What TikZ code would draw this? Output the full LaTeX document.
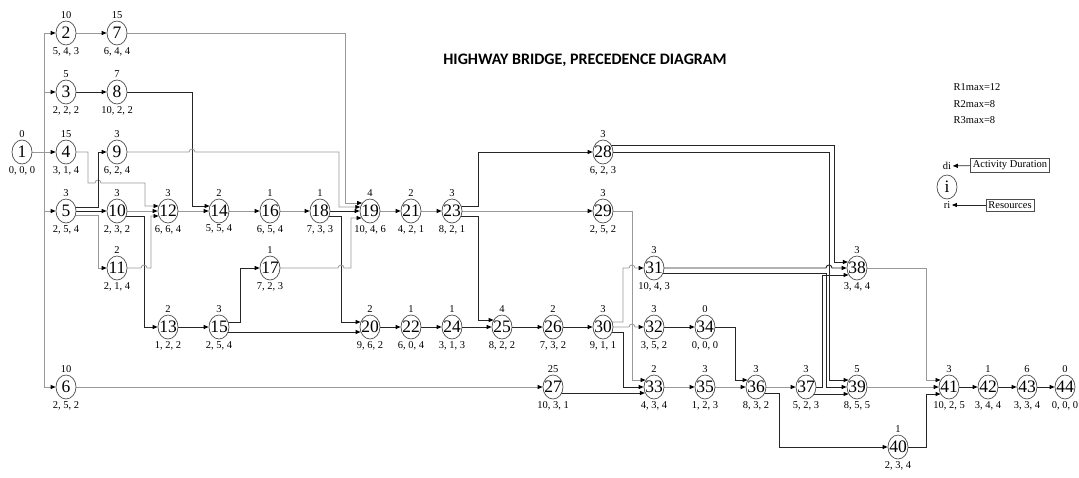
\documentclass[tikz,border=0pt]{standalone}
\usepackage{fontspec}
\setmainfont{Liberation Serif}
\newfontfamily\titlefont{Carlito}
\usetikzlibrary{arrows.meta, shapes.geometric, backgrounds}
\tikzset{
  act/.style={draw=black!70, ellipse, fill=white, line width=0.7pt,
    minimum width=20pt, minimum height=24pt, inner sep=0pt,
    font=\fontsize{17.5}{17.5}\selectfont},
  lbl/.style={font=\fontsize{10.5}{11}\selectfont, inner sep=1.5pt},
  lt/.style={draw=black!40, line width=0.8pt,
    -{Triangle[length=5pt,width=4pt,color=black]}},
  dk/.style={draw=black!85, line width=0.9pt,
    -{Triangle[length=5pt,width=4pt,color=black]}},
  legbox/.style={draw=black!70, line width=0.6pt, inner sep=2.5pt,
    font=\fontsize{10.5}{11}\selectfont},
}
\newcommand{\jmp}{arc[start angle=180, end angle=0, radius=3pt]}

\begin{document}
\begin{tikzpicture}[x=1pt, y=-1pt, label distance=0pt]
  \useasboundingbox (0,0) rectangle (1079,477);

  % activities: number / x / y / duration / resources
  \foreach \n/\x/\y/\dur/\res in {
      1/22/152/0/{0, 0, 0}, 2/66/33/10/{5, 4, 3}, 3/66/92/5/{2, 2, 2},
      4/66/152/15/{3, 1, 4}, 5/66/211/3/{2, 5, 4}, 6/66/387/10/{2, 5, 2},
      7/117/33/15/{6, 4, 4}, 8/117/92/7/{10, 2, 2}, 9/117/152/3/{6, 2, 4},
      10/117/211/3/{2, 3, 2}, 11/117/268/2/{2, 1, 4},
      12/168/211/3/{6, 6, 4}, 13/168/327/2/{1, 2, 2},
      14/219/211/2/{5, 5, 4}, 15/219/327/3/{2, 5, 4},
      16/270/211/1/{6, 5, 4}, 17/270/268/1/{7, 2, 3},
      18/320/211/1/{7, 3, 3}, 19/370/211/4/{10, 4, 6},
      20/370/327/2/{9, 6, 2}, 21/411/211/2/{4, 2, 1},
      22/411/327/1/{6, 0, 4}, 23/452/211/3/{8, 2, 1},
      24/452/327/1/{3, 1, 3}, 25/502/327/4/{8, 2, 2},
      26/553/327/2/{7, 3, 2}, 27/553/387/25/{10, 3, 1},
      28/603/152/3/{6, 2, 3}, 29/603/211/3/{2, 5, 2},
      30/603/327/3/{9, 1, 1}, 31/654/268/3/{10, 4, 3},
      32/654/327/3/{3, 5, 2}, 33/654/387/2/{4, 3, 4},
      34/705/327/0/{0, 0, 0}, 35/705/387/3/{1, 2, 3},
      36/756/387/3/{8, 3, 2}, 37/806/387/3/{5, 2, 3},
      38/857/268/3/{3, 4, 4}, 39/857/387/5/{8, 5, 5},
      40/898/447/1/{2, 3, 4}, 41/949/387/3/{10, 2, 5},
      42/988/387/1/{3, 4, 4}, 43/1027/387/6/{3, 3, 4},
      44/1065/387/0/{0, 0, 0}}
    \node[act, label={[lbl]above:\dur}, label={[lbl]below:\res}]
      (n\n) at (\x,\y) {\makebox[0pt]{\n}};

  % title and resource limits
  \node[font=\titlefont\bfseries\fontsize{16}{16}\selectfont] (title)
    at (585,60) {HIGHWAY BRIDGE, PRECEDENCE DIAGRAM};
  \node[lbl, align=left, anchor=north west,
        font=\fontsize{10.5}{16.5}\selectfont] (rmax)
    at (952,82) {R1max=12\\R2max=8\\R3max=8};

  % legend
  \node[act] (legi) at (947,187) {\makebox[0pt]{i}};
  \node[lbl] (di) at (947,166) {di};
  \node[lbl] (ri) at (947,205) {ri};
  \node[legbox] (dur) at (1010,165) {Activity Duration};
  \node[legbox] (res) at (1010,205) {Resources};
  \draw[dk, line width=0.7pt] (dur) -- (di);
  \draw[dk, line width=0.7pt] (res) -- (ri);

  \begin{scope}[on background layer]
    % start node 1
    \draw[lt] (n1.center) -- (n4.west);
    \foreach \t in {2,3,5,6}
      \draw[lt] (n1.center) -- (44,152) |- (n\t.west);

    % first columns
    \draw[lt] (n2.center) -- (n7.west);
    \draw[dk] (n3.center) -- (n8.west);
    \draw[lt] (n7.center) -- (345,33) |- ([xshift=2.5pt,yshift=8pt]n19.west);
    \draw[dk] (n8.center) -- (192,92) |- ([xshift=0.9pt,yshift=5pt]n14.west);
    \draw[lt] (n4.center) -- (88,152) -- (88,183) -- (95,183) \jmp
      -- (145,183) |- ([xshift=0.9pt,yshift=5pt]n12.west);
    \draw[lt] (n9.center) -- (189,152) \jmp
      -- (339,152) |- ([xshift=0.6pt,yshift=4pt]n19.west);
    \draw[dk] ([yshift=4pt]n5.center) -- (98,207) |- (n9.west);
    \draw[dk] (n5.center) -- (n10.west);
    \draw[lt] ([yshift=-4pt]n5.center) -- (98,215) |- (n11.west);
    \draw[lt] (n10.center) -- (n12.west);
    \draw[dk] ([yshift=-5pt]n10.center) -- (144,216) |- (n13.west);
    \draw[lt] (n11.center) -- (141,268) \jmp
      -- (151,268) |- ([xshift=0.9pt,yshift=-5pt]n12.west);

    % middle rows
    \foreach \a/\b in {12/14, 14/16, 16/18, 19/21, 21/23, 23/29}
      \draw[lt] (n\a.center) -- (n\b.west);
    \foreach \a/\b in {13/15, 18/19, 20/22, 22/24, 24/25, 25/26, 26/30}
      \draw[dk] (n\a.center) -- (n\b.west);
    \draw[dk] ([yshift=-5pt]n18.center) -- (341,216)
      |- ([xshift=0.9pt,yshift=5pt]n20.west);
    \draw[dk] ([yshift=5pt]n15.center) -- (240,322) |- (n17.west);
    \draw[dk] ([yshift=-5pt]n15.center) -- ([xshift=0.9pt,yshift=-5pt]n20.west);
    \draw[lt] (n17.center) -- (338,268) \jmp
      -- (351,268) |- ([xshift=1.9pt,yshift=-7pt]n19.west);
    \draw[dk] ([yshift=5pt]n23.center) -- (478,206) |- (n28.west);
    \draw[dk] ([yshift=-5pt]n23.center) -- (478,216)
      |- ([xshift=1.9pt,yshift=7pt]n25.west);

    % right part
    \draw[lt] (n6.center) -- (n27.west);
    \draw[dk] ([yshift=-6pt]n27.center) -- ([xshift=1.3pt,yshift=-6pt]n33.west);
    \draw[lt] (n29.center) -- (632,211) |- ([xshift=1.9pt,yshift=7pt]n33.west);
    \draw[lt] ([yshift=5pt]n30.center) -- (623,322) -- (623,268)
      -- (629,268) \jmp -- (n31.west);
    \draw[lt] (n30.center) -- (629,327) \jmp -- (n32.west);
    \draw[dk] ([yshift=-5pt]n30.center) -- (623,332) |- (n33.west);
    \draw[dk] ([yshift=7pt]n28.center) -- (834,145)
      |- ([xshift=1.3pt,yshift=6pt]n38.west);
    \draw[dk] (n28.center) -- (829,152) |- ([xshift=1.9pt,yshift=7pt]n39.west);
    \draw[dk] (n31.center) -- (826,268) \jmp -- (n38.west);
    \draw[dk] ([yshift=-5pt]n31.center) -- (826,273) |- (n39.west);
    \draw[dk] (n37.center) -- (822,387)
      |- ([xshift=1.9pt,yshift=-7pt]n38.west);
    \draw[dk] ([yshift=-7pt]n37.center) -- ([xshift=1.9pt,yshift=-7pt]n39.west);
    \foreach \a/\b in {33/35, 35/36, 36/37, 39/41}
      \draw[lt] (n\a.center) -- (n\b.west);
    \foreach \a/\b in {32/34, 41/42, 42/43, 43/44}
      \draw[dk] (n\a.center) -- (n\b.west);
    \draw[dk] (n34.center) -- (735,327) |- ([xshift=1.9pt,yshift=7pt]n36.west);
    \draw[dk] ([yshift=-6pt]n36.center) -- (779,393) |- (n40.west);
    \draw[lt] (n38.center) -- (926,268) |- ([xshift=1.9pt,yshift=7pt]n41.west);
    \draw[dk] (n40.center) -- (926,447) |- ([xshift=1.9pt,yshift=-7pt]n41.west);
  \end{scope}
\end{tikzpicture}
\end{document}
